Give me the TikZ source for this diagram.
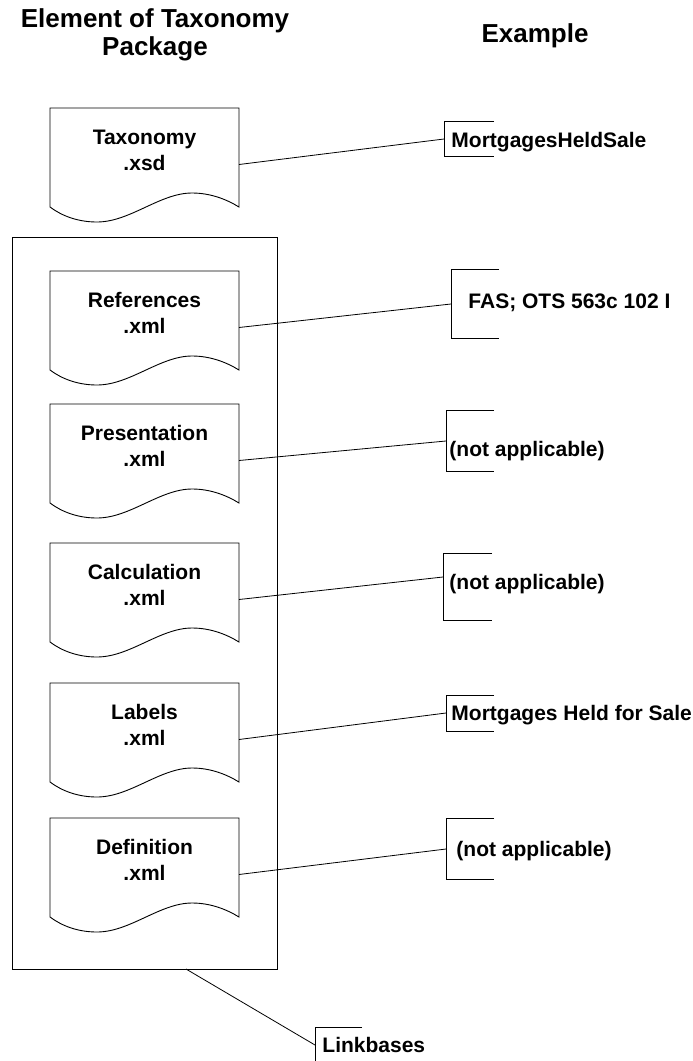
\documentclass[tikz,border=0pt]{standalone}
\usepackage{fontspec}
\setmainfont{Liberation Sans}
\begin{document}
\begin{tikzpicture}[x=1pt,y=-1pt, line width=0.9pt,
  head/.style={font=\fontsize{26}{28}\selectfont\bfseries, align=center, inner sep=0pt, anchor=base},
  lbl/.style={font=\fontsize{21}{26}\selectfont\bfseries, align=center, inner sep=0pt, anchor=base},
  ex/.style={font=\fontsize{21}{26}\selectfont\bfseries, inner sep=0pt, anchor=base west},
  docbox/.style={minimum width=189pt, minimum height=113pt, inner sep=0pt, outer sep=0pt},
  annot/.style={inner sep=0pt, outer sep=0pt},
  link/.style={line width=0.8pt}]
\useasboundingbox (0,0) rectangle (693,1061);

% headings (anchor = baseline of the last line)
\node[head] (h1) at (155,55) {Element of Taxonomy\\Package};
\node[head] (h2) at (535,42) {Example};

% container of linkbases
\node[draw, minimum width=265pt, minimum height=732pt, inner sep=0pt, outer sep=0pt] (lbox) at (144.5,603) {};

% document shapes
\newcommand\docshape[3]{%
  \node[docbox] (#1) at (144.5,#2+56.5) {};
  \begin{scope}[shift={(#1.north west)}]
    \draw (0,0) -- (189,0) -- (189,99)
      .. controls (176,91) and (160,85) .. (142,85)
      .. controls (110,85) and (80,114) .. (47,114)
      .. controls (28,114) and (12,108) .. (0,99) -- cycle;
  \end{scope}
  \node[lbl] (#1t) at (144.5,#2+62) {#3};
}
\docshape{tax}{108}{Taxonomy\\.xsd}
\docshape{ref}{271}{References\\.xml}
\docshape{pre}{404}{Presentation\\.xml}
\docshape{cal}{543}{Calculation\\.xml}
\docshape{lab}{683}{Labels\\.xml}
\docshape{def}{818}{Definition\\.xml}

% annotation brackets
\newcommand\annot[6]{% name, xl, xr, yt, yb, conn y
  \node[annot, minimum width=#3pt-#2pt, minimum height=#5pt-#4pt] (#1) at ({(#2+#3)/2},{(#4+#5)/2}) {};
  \draw (#1.north east) -- (#1.north west) -- (#1.south west) -- (#1.south east);
  \coordinate (#1c) at (#2,#6);
}
\annot{b1}{444}{494}{121}{156}{139}
\annot{b2}{451}{499}{269}{338}{304}
\annot{b3}{446}{494}{410}{471}{441}
\annot{b4}{443}{492}{553}{620}{577}
\annot{b5}{446}{494}{695}{731}{713}
\annot{b6}{446}{494}{818}{879}{849}
\node[annot, minimum width=47pt, minimum height=40pt] (b7) at (338.5,1047) {};
\draw (b7.north east) -- (b7.north west) -- (b7.south west);
\coordinate (b7c) at (315,1045);

\node[ex] (e1) at (451,147) {MortgagesHeldSale};
\node[ex] (e2) at (468,308) {FAS; OTS 563c 102 I};
\node[ex] (e3) at (449,456) {(not applicable)};
\node[ex] (e4) at (449,589) {(not applicable)};
\node[ex] (e5) at (451,720) {Mortgages Held for Sale};
\node[ex] (e6) at (456,856) {(not applicable)};
\node[ex] (e7) at (322,1052) {Linkbases};

% connectors
\draw[link] (tax.east) -- (b1c);
\draw[link] (ref.east) -- (b2c);
\draw[link] (pre.east) -- (b3c);
\draw[link] (cal.east) -- (b4c);
\draw[link] (lab.east) -- (b5c);
\draw[link] (def.east) -- (b6c);
\draw[link] ([xshift=41.5pt]lbox.south) -- (b7c);
\end{tikzpicture}
\end{document}
